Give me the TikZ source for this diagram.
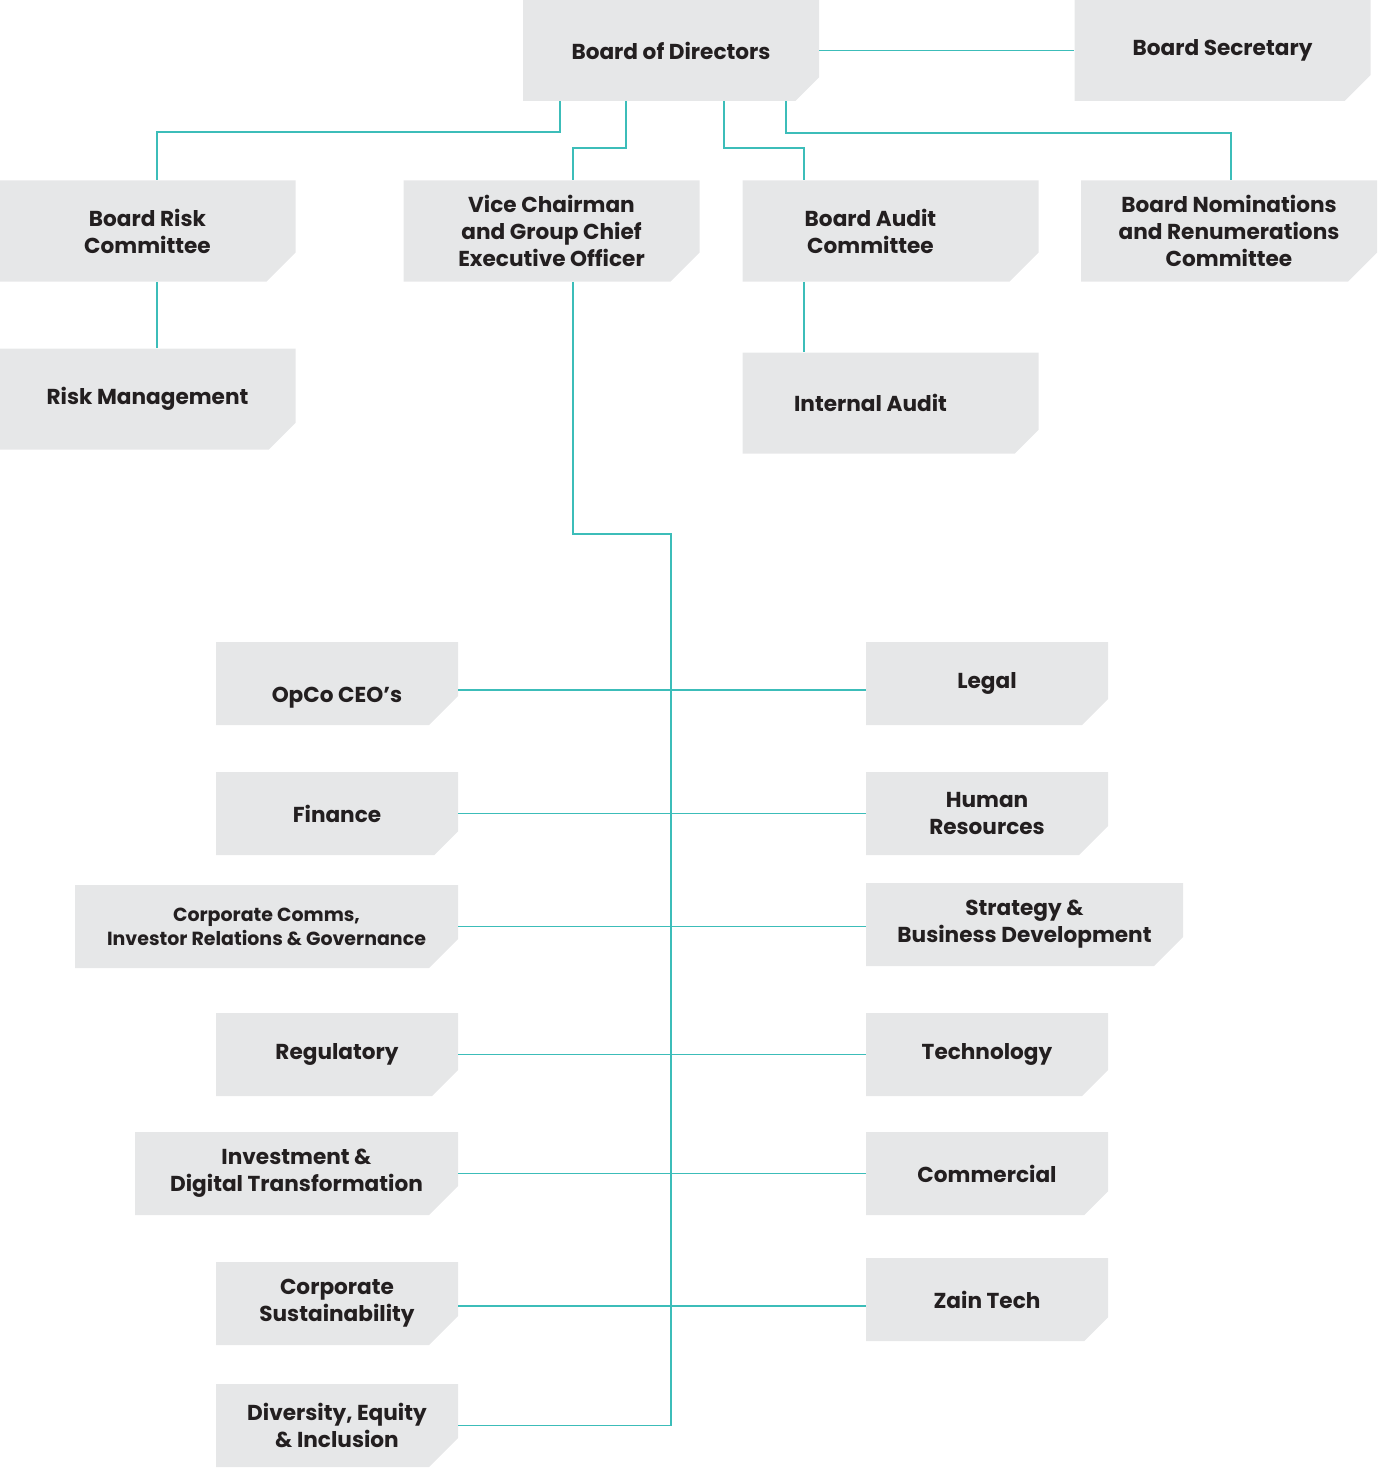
\documentclass[tikz,border=0pt]{standalone}
\usepackage{fontspec}
\setmainfont{Poppins}
\usetikzlibrary{shapes.misc}
\definecolor{boxgray}{HTML}{E6E7E8}
\definecolor{linkteal}{HTML}{3CBDB9}
\definecolor{txtdark}{HTML}{231F20}
\begin{document}
\begin{tikzpicture}[
  unit box/.style={chamfered rectangle,chamfered rectangle corners=south east,
    chamfered rectangle xsep=0.28cm,chamfered rectangle ysep=0.3cm,
    fill=boxgray,draw=none,inner sep=0pt,align=center,text=txtdark,
    font=\fontsize{12.3}{15.3}\selectfont\bfseries},
  big box/.style={unit box,minimum width=5.92cm,minimum height=2.02cm},
  small box/.style={unit box,minimum width=4.84cm,minimum height=1.66cm},
  link/.style={draw=linkteal,line width=1.1pt}]

  \useasboundingbox (0,0) rectangle (27.54,-29.36);

  % board level
  \node[big box] (bod) at (13.42,-1.01) {Board of Directors};
  \node[big box] (bsec) at (24.45,-1.01) {Board Secretary};
  \node[big box] (brc) at (2.95,-4.62) {Board Risk\\Committee};
  \node[big box] (vc) at (11.03,-4.62) {Vice Chairman\\and Group Chief\\Executive Officer};
  \node[big box] (bac) at (17.81,-4.62) {Board Audit\hspace*{0.8cm}\\Committee\hspace*{0.8cm}};
  \node[big box] (bnr) at (24.58,-4.62) {Board Nominations\\and Renumerations\\Committee};
  \node[big box] (rm) at (2.95,-7.98) {Risk Management};
  \node[big box] (ia) at (17.81,-8.06) {Internal Audit\hspace*{0.8cm}};

  % functions, left
  \node[small box,text height=0.85cm,text depth=0.1cm] (opco) at (6.74,-13.67) {OpCo CEO’s};
  \node[small box] (fin) at (6.74,-16.27) {Finance};
  \node[small box,minimum width=7.66cm,font=\fontsize{10.8}{13.6}\selectfont\bfseries] (ccir) at (5.33,-18.53) {Corporate Comms,\\Investor Relations \& Governance};
  \node[small box] (reg) at (6.74,-21.09) {Regulatory};
  \node[small box,minimum width=6.46cm] (idt) at (5.93,-23.47) {Investment \&\\Digital Transformation};
  \node[small box] (cs) at (6.74,-26.07) {Corporate\\Sustainability};
  \node[small box] (dei) at (6.74,-28.51) {Diversity, Equity\\\& Inclusion};

  % functions, right
  \node[small box] (legal) at (19.74,-13.67) {Legal};
  \node[small box] (hr) at (19.74,-16.27) {Human\\Resources};
  \node[small box,minimum width=6.34cm] (sbd) at (20.49,-18.49) {Strategy \&\\Business Development};
  \node[small box] (tech) at (19.74,-21.09) {Technology};
  \node[small box] (com) at (19.74,-23.47) {Commercial};
  \node[small box] (zt) at (19.74,-25.99) {Zain Tech};

  \coordinate (bend) at (13.42,-10.68);

  % connectors
  \draw[link] (bod.east) -- (bsec.west);
  \draw[link] ([xshift=-2.22cm]bod.south) -- ++(0,-0.62) -| ([xshift=0.19cm]brc.north);
  \draw[link] ([xshift=-0.9cm]bod.south) -- ++(0,-0.94) -| ([xshift=0.43cm]vc.north);
  \draw[link] ([xshift=1.06cm]bod.south) -- ++(0,-0.94) -| ([xshift=-1.73cm]bac.north);
  \draw[link] ([xshift=2.3cm]bod.south) -- ++(0,-0.64) -| ([xshift=0.04cm]bnr.north);
  \draw[link] ([xshift=0.19cm]brc.south) -- ([xshift=0.19cm]rm.north);
  \draw[link] ([xshift=-1.73cm]bac.south) -- ([xshift=-1.73cm]ia.north);
  \draw[link] ([xshift=0.43cm]vc.south) |- (bend) -- (bend |- dei.east) -- (dei.east);
  \draw[link] ([yshift=-0.13cm]opco.east) -- ([yshift=-0.13cm]opco.east -| legal.west);
  \draw[link] (fin.east) -- (hr.west);
  \draw[link] (ccir.east) -- (ccir.east -| sbd.west);
  \draw[link] (reg.east) -- (tech.west);
  \draw[link] (idt.east) -- (com.west);
  \draw[link] ([yshift=-0.05cm]cs.east) -- ([yshift=-0.05cm]cs.east -| zt.west);
\end{tikzpicture}
\end{document}
